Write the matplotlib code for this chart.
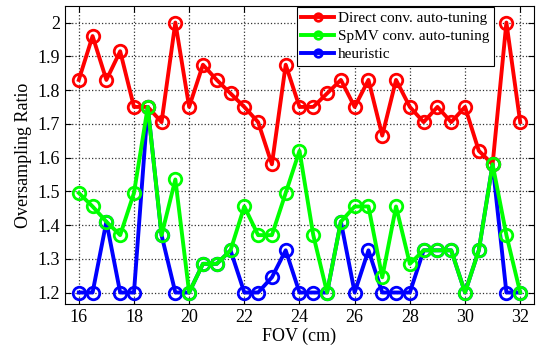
import matplotlib.pyplot as plt
import numpy as np

# FOV values (cm)
fov = [16, 16.5, 17, 17.5, 18, 18.5, 19, 19.5, 20, 20.5, 21, 21.5, 22, 22.5,
       23, 23.5, 24, 24.5, 25, 25.5, 26, 26.5, 27, 27.5, 28, 28.5, 29, 29.5,
       30, 30.5, 31, 31.5, 32]

direct = [1.83, 1.96, 1.83, 1.915, 1.75, 1.75, 1.705, 2.0, 1.75, 1.875, 1.83,
          1.79, 1.75, 1.705, 1.58, 1.875, 1.75, 1.75, 1.79, 1.83, 1.75, 1.83,
          1.665, 1.83, 1.75, 1.705, 1.75, 1.705, 1.75, 1.62, 1.58, 2.0, 1.705]

spmv = [1.495, 1.455, 1.41, 1.37, 1.495, 1.75, 1.37, 1.535, 1.2, 1.285, 1.285,
        1.325, 1.455, 1.37, 1.37, 1.495, 1.62, 1.37, 1.2, 1.41, 1.455, 1.455,
        1.245, 1.455, 1.285, 1.325, 1.325, 1.325, 1.2, 1.325, 1.58, 1.37, 1.2]

heuristic = [1.2, 1.2, 1.41, 1.2, 1.2, 1.75, 1.37, 1.2, 1.2, 1.285, 1.285,
             1.325, 1.2, 1.2, 1.245, 1.325, 1.2, 1.2, 1.2, 1.41, 1.2, 1.325,
             1.2, 1.2, 1.2, 1.325, 1.325, 1.325, 1.2, 1.325, 1.58, 1.2, 1.2]

plt.rcParams['font.family'] = ['Liberation Serif', 'DejaVu Serif']

fig = plt.figure(figsize=(5.43, 3.47), dpi=100)
ax = fig.add_axes([0.1197, 0.123, 0.8637, 0.8606])

style = dict(linewidth=2.8, marker='o', markersize=9, markerfacecolor='none',
             markeredgewidth=2.0)
ax.plot(fov, direct, color='#ff0000', label='Direct conv. auto-tuning', zorder=3, **style)
ax.plot(fov, spmv, color='#00ff00', label='SpMV conv. auto-tuning', zorder=4, **style)
ax.plot(fov, heuristic, color='#0000ff', label='heuristic', zorder=2, **style)

ax.set_xlim(15.5, 32.5)
ax.set_ylim(1.165, 2.05)
ax.set_xticks(np.arange(16, 33, 2))
ax.set_yticks(np.arange(1.2, 2.01, 0.1))
ax.set_yticklabels(['1.2', '1.3', '1.4', '1.5', '1.6', '1.7', '1.8', '1.9', '2'])
ax.tick_params(direction='in', top=True, right=True, labelsize=13, length=4)
ax.grid(True, linestyle=':', color='#333333', linewidth=0.9)
ax.set_xlabel('FOV (cm)', fontsize=13, labelpad=1)
ax.set_ylabel('Oversampling Ratio', fontsize=13, labelpad=4)

leg = ax.legend(loc='upper right', fontsize=11, fancybox=False, framealpha=1,
                edgecolor='black', markerscale=0.6, handlelength=2.1,
                borderpad=0.3, labelspacing=0.3, handletextpad=0.3,
                borderaxespad=0.0, bbox_to_anchor=(0.915, 0.997))
leg.get_frame().set_linewidth(0.8)

plt.savefig('out.png', dpi=100)
